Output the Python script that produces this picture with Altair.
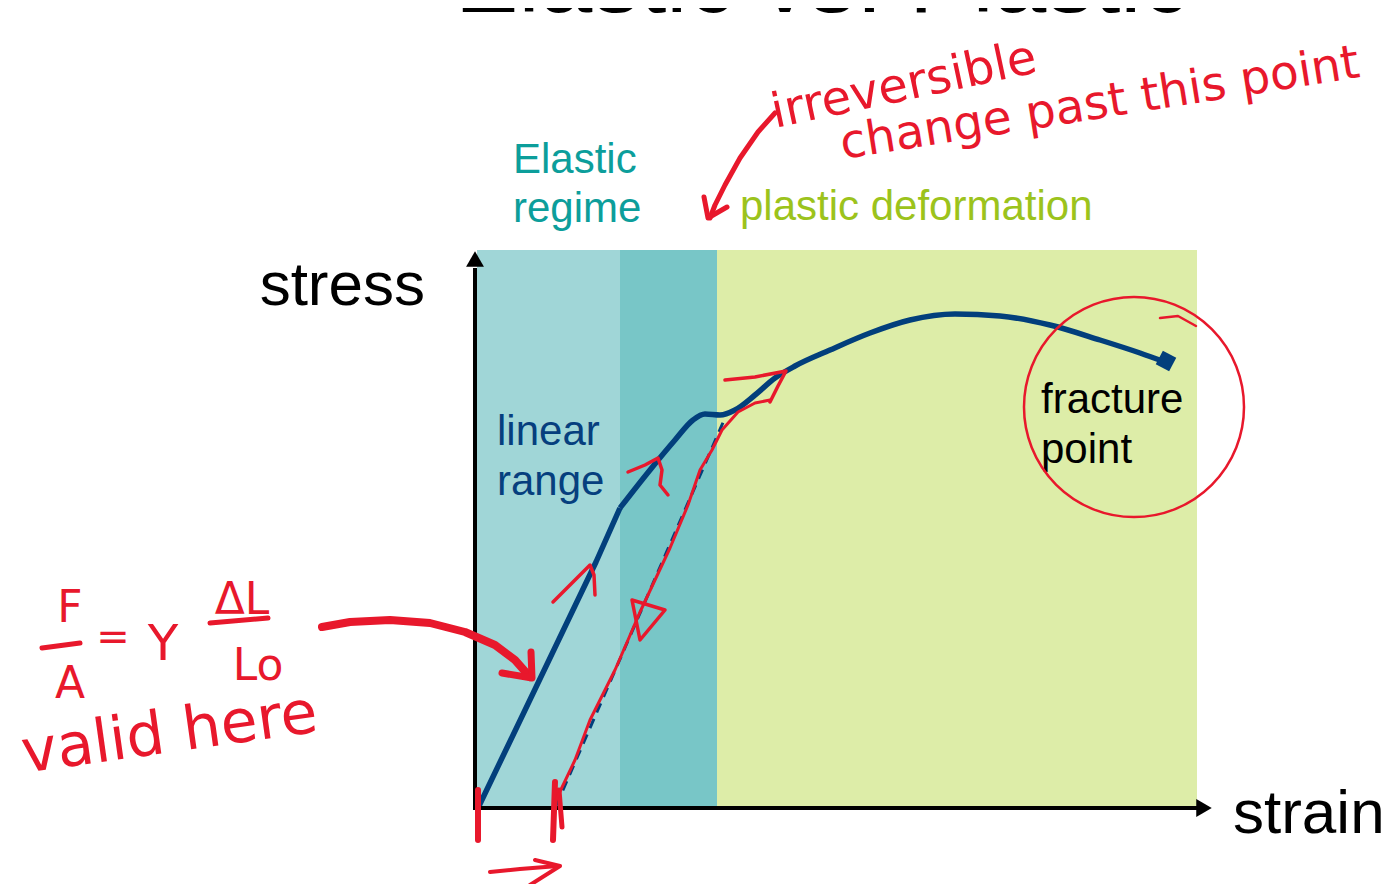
import altair as alt
import pandas as pd

# ---------------- data (strain / stress in arbitrary units) ----------------
region_start = [0.0, 1.43, 2.40]
region_end = [1.43, 2.40, 7.20]
region_color = ["#A0D6D7", "#78C6C7", "#DDEDA8"]
region_top = 5.58

# linear (Hookean) part of the stress-strain curve
linear_strain = [0.02, 1.19, 1.43]
linear_stress = [0.02, 2.46, 3.00]
# yield / hardening part
curve_strain = [1.43, 1.73, 1.98, 2.16, 2.28, 2.43, 2.58, 2.78, 2.98,
                3.18, 3.53, 3.93, 4.33, 4.78, 5.23, 5.73, 6.23, 6.63, 6.88]
curve_stress = [3.00, 3.38, 3.68, 3.88, 3.94, 3.93, 3.98, 4.13, 4.30,
                4.42, 4.58, 4.75, 4.88, 4.94, 4.92, 4.83, 4.68, 4.55, 4.46]

fracture_strain = [6.89]
fracture_stress = [4.47]

unload_strain = [0.79, 2.48]
unload_stress = [0.02, 3.90]

axis_end_strain = 7.20
axis_end_stress = 5.40

# texts
label_text = ["Elastic", "regime", "plastic deformation", "linear", "range",
              "fracture", "point", "strain"]
label_strain = [0.36, 0.36, 2.63, 0.20, 0.20, 5.64, 5.64, 7.56]
label_stress = [6.35, 5.86, 5.88, 3.63, 3.13, 3.95, 3.45, -0.25]
label_color = ["#0C9E9B", "#0C9E9B", "#9CC31C", "#063F7E", "#063F7E",
               "#000000", "#000000", "#000000"]
label_size = [42, 42, 42, 42, 42, 42, 42, 62]

title_text = ["Elastic vs. Plastic"]
title_strain = [3.45]
title_stress = [7.96]

ylabel_text = ["stress"]
ylabel_strain = [-0.52]
ylabel_stress = [5.03]

# handwritten red notes
note_text = ["F", "A", "=", "Y", "ΔL", "Lo", "valid here",
             "irreversible", "change past this point"]
note_strain = [-4.07, -4.07, -3.64, -3.14, -2.35, -2.19, -3.05, 4.30, 6.25]
note_stress = [1.86, 1.10, 1.58, 1.48, 1.94, 1.28, 0.56, 7.08, 6.90]
note_size = [44, 44, 40, 50, 44, 44, 60, 48, 47]
note_angle = [0, 0, 0, 0, 0, 0, 352, 348, 351]

# red pen strokes: (stroke id, strain, stress)
stroke_id = (["fa_bar"] * 2 + ["dl_bar"] * 2 + ["curved"] * 8 + ["curved_head"] * 3
             + ["irr"] * 6 + ["irr_head"] * 3 + ["circle_tail"] * 3
             + ["mark0"] * 2 + ["mark1a"] * 2 + ["mark1b"] * 2
             + ["bottom"] * 3 + ["bottom_head"] * 3 + ["up_lin"] * 5
             + ["hook"] * 6 + ["yield_arrow"] * 5 + ["trace"] * 16 + ["tri"] * 4)
stroke_strain = ([-4.35, -3.97] + [-2.67, -2.09]
                 + [-1.55, -1.27, -0.87, -0.47, -0.12, 0.18, 0.38, 0.53]
                 + [0.25, 0.55, 0.54]
                 + [2.98, 2.81, 2.63, 2.48, 2.38, 2.33]
                 + [2.27, 2.31, 2.50]
                 + [6.83, 7.01, 7.19]
                 + [0.01, 0.01] + [0.78, 0.76] + [0.82, 0.85]
                 + [0.13, 0.43, 0.81] + [0.58, 0.83, 0.53]
                 + [0.76, 0.93, 1.13, 1.17, 1.18]
                 + [1.51, 1.68, 1.81, 1.85, 1.83, 1.91]
                 + [2.48, 2.78, 3.09, 3.01, 2.93]
                 + [0.79, 0.98, 1.13, 1.23, 1.38, 1.51, 1.63, 1.78, 1.93, 2.11,
                    2.23, 2.35, 2.45, 2.61, 2.78, 2.93]
                 + [1.55, 1.88, 1.63, 1.55])
stroke_stress = ([1.60, 1.65] + [1.85, 1.90]
                 + [1.81, 1.86, 1.88, 1.85, 1.76, 1.63, 1.48, 1.31]
                 + [1.35, 1.30, 1.56]
                 + [6.95, 6.76, 6.50, 6.23, 6.03, 5.90]
                 + [6.11, 5.90, 6.01]
                 + [4.90, 4.92, 4.82]
                 + [0.18, -0.32] + [0.26, -0.32] + [0.18, -0.19]
                 + [-0.64, -0.61, -0.58] + [-0.52, -0.58, -0.77]
                 + [2.06, 2.23, 2.43, 2.33, 2.13]
                 + [3.36, 3.43, 3.50, 3.38, 3.23, 3.13]
                 + [4.28, 4.31, 4.37, 4.22, 4.06]
                 + [0.08, 0.48, 0.88, 1.08, 1.38, 1.68, 1.96, 2.28, 2.60, 3.03,
                    3.38, 3.58, 3.78, 3.96, 4.05, 4.08]
                 + [2.08, 1.98, 1.68, 2.08])
stroke_width_by_id = {"fa_bar": 5, "dl_bar": 5, "curved": 8, "curved_head": 7,
                      "irr": 5, "irr_head": 5, "circle_tail": 2.5, "mark0": 6,
                      "mark1a": 6, "mark1b": 5, "bottom": 4, "bottom_head": 4,
                      "up_lin": 3.5, "hook": 3.5, "yield_arrow": 3.5,
                      "trace": 3, "tri": 3.5}

circle_strain = [6.57]
circle_stress = [4.01]

RED = "#E8182C"
BLUE = "#023F7C"

# ---------------- scales ----------------
xs = alt.Scale(domain=[-4.69, 9.10], nice=False, zero=False)
ys = alt.Scale(domain=[-0.76, 8.00], nice=False, zero=False)
X = lambda f: alt.X(f, type="quantitative", scale=xs, axis=None)
Y = lambda f: alt.Y(f, type="quantitative", scale=ys, axis=None)

regions = pd.DataFrame({"s0": region_start, "s1": region_end,
                        "t0": [0.0] * 3, "t1": [region_top] * 3, "c": region_color})
bg = alt.Chart(regions).mark_rect().encode(
    x=X("s0"), x2="s1", y=Y("t0"), y2="t1",
    color=alt.Color("c:N", scale=None))

axes_df = pd.DataFrame({"s0": [0.0, -0.02], "s1": [axis_end_strain, -0.02],
                        "t0": [0.0, -0.02], "t1": [0.0, axis_end_stress]})
axes = alt.Chart(axes_df).mark_rule(color="black", strokeWidth=4).encode(
    x=X("s0"), x2="s1", y=Y("t0"), y2="t1")

arrow_df = pd.DataFrame({"s": [7.27, -0.02], "t": [0.0, 5.49],
                         "shape": ["triangle-right", "triangle-up"]})
arrows = alt.Chart(arrow_df).mark_point(filled=True, color="black", opacity=1,
                                        size=320).encode(
    x=X("s"), y=Y("t"), shape=alt.Shape("shape:N", scale=None))

unload = alt.Chart(pd.DataFrame({"s": unload_strain, "t": unload_stress})).mark_line(
    color=BLUE, strokeWidth=3, strokeDash=[10, 7]).encode(x=X("s"), y=Y("t"))

linear_part = alt.Chart(pd.DataFrame({"s": linear_strain, "t": linear_stress})).mark_line(
    color=BLUE, strokeWidth=5.5, strokeJoin="round").encode(x=X("s"), y=Y("t"))

curve = alt.Chart(pd.DataFrame({"s": curve_strain, "t": curve_stress})).mark_line(
    color=BLUE, strokeWidth=5.5, interpolate="monotone").encode(x=X("s"), y=Y("t"))

fracture = alt.Chart(pd.DataFrame({"s": fracture_strain, "t": fracture_stress})).mark_point(
    shape="square", filled=True, color=BLUE, opacity=1, size=230, angle=28).encode(
    x=X("s"), y=Y("t"))

labels = alt.Chart(pd.DataFrame({"txt": label_text, "s": label_strain, "t": label_stress,
                                 "c": label_color, "fs": label_size})).mark_text(
    align="left", baseline="alphabetic", font="Liberation Sans").encode(
    x=X("s"), y=Y("t"), text="txt:N",
    color=alt.Color("c:N", scale=None), size=alt.Size("fs:Q", scale=None))

title = alt.Chart(pd.DataFrame({"txt": title_text, "s": title_strain, "t": title_stress})).mark_text(
    align="center", baseline="alphabetic", font="Liberation Sans", fontSize=95,
    color="black").encode(x=X("s"), y=Y("t"), text="txt:N")

ylabel = alt.Chart(pd.DataFrame({"txt": ylabel_text, "s": ylabel_strain, "t": ylabel_stress})).mark_text(
    align="right", baseline="alphabetic", font="Liberation Sans", fontSize=62,
    color="black").encode(x=X("s"), y=Y("t"), text="txt:N")

notes = alt.Chart(pd.DataFrame({"txt": note_text, "s": note_strain, "t": note_stress,
                                "fs": note_size, "a": note_angle})).mark_text(
    align="center", baseline="alphabetic", font="DejaVu Sans", color=RED).encode(
    x=X("s"), y=Y("t"), text="txt:N", size=alt.Size("fs:Q", scale=None),
    angle=alt.Angle("a:Q", scale=None))

strokes_df = pd.DataFrame({"id": stroke_id, "s": stroke_strain, "t": stroke_stress})
strokes_df["o"] = range(len(strokes_df))
strokes_df["w"] = strokes_df["id"].map(stroke_width_by_id)
strokes = alt.Chart(strokes_df).mark_line(color=RED, strokeCap="round",
                                          strokeJoin="round").encode(
    x=X("s"), y=Y("t"), detail="id:N", order="o:Q",
    strokeWidth=alt.StrokeWidth("w:Q", scale=None))

circle = alt.Chart(pd.DataFrame({"s": circle_strain, "t": circle_stress})).mark_point(
    shape="circle", filled=False, color=RED, strokeWidth=2.5, size=48400, opacity=1).encode(
    x=X("s"), y=Y("t"))

chart = alt.layer(bg, unload, linear_part, curve, fracture, axes, arrows, labels, title,
                  ylabel, notes, strokes, circle).properties(
    width=1379, height=876, padding=0,
    autosize=alt.AutoSizeParams(type="none"),
    background="white").configure_view(stroke=None)

chart.save("out.html", embed_options={"renderer": "svg", "actions": False})
